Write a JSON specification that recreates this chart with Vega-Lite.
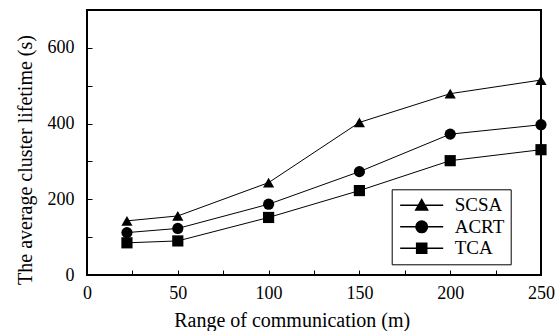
{
  "$schema": "https://vega.github.io/schema/vega-lite/v6.json",
  "width": 454,
  "height": 265,
  "autosize": "none",
  "padding": {"left": 87, "top": 10, "right": 14, "bottom": 56},
  "background": "white",
  "config": {
    "view": {"stroke": "black", "strokeWidth": 2},
    "font": "Liberation Serif",
    "axis": {
      "grid": false,
      "domain": false,
      "ticks": true,
      "tickColor": "black",
      "tickWidth": 1,
      "tickSize": 5,
      "offset": -5,
      "labelFont": "Liberation Serif",
      "labelFontSize": 18,
      "labelColor": "black",
      "titleFont": "Liberation Serif",
      "titleFontSize": 20,
      "titleFontWeight": "normal",
      "titleColor": "black"
    }
  },
  "data": {
    "values": [
      {"range": 22, "lifetime": 143, "series": "SCSA"},
      {"range": 50, "lifetime": 156, "series": "SCSA"},
      {"range": 100, "lifetime": 244, "series": "SCSA"},
      {"range": 150, "lifetime": 403, "series": "SCSA"},
      {"range": 200, "lifetime": 479, "series": "SCSA"},
      {"range": 250, "lifetime": 515, "series": "SCSA"},
      {"range": 22, "lifetime": 112, "series": "ACRT"},
      {"range": 50, "lifetime": 123, "series": "ACRT"},
      {"range": 100, "lifetime": 187, "series": "ACRT"},
      {"range": 150, "lifetime": 273, "series": "ACRT"},
      {"range": 200, "lifetime": 372, "series": "ACRT"},
      {"range": 250, "lifetime": 397, "series": "ACRT"},
      {"range": 22, "lifetime": 85, "series": "TCA"},
      {"range": 50, "lifetime": 90, "series": "TCA"},
      {"range": 100, "lifetime": 152, "series": "TCA"},
      {"range": 150, "lifetime": 223, "series": "TCA"},
      {"range": 200, "lifetime": 302, "series": "TCA"},
      {"range": 250, "lifetime": 331, "series": "TCA"}
    ]
  },
  "encoding": {
    "x": {
      "field": "range",
      "type": "quantitative",
      "scale": {"domain": [0, 250], "nice": false, "zero": false},
      "axis": {
        "title": "Range of communication (m)",
        "values": [0, 25, 50, 75, 100, 125, 150, 175, 200, 225, 250],
        "labelExpr": "datum.value % 50 == 0 ? datum.label : ''",
        "labelFlush": false,
        "labelPadding": 9,
        "titleX": 204.7,
        "titleY": 56,
        "titleBaseline": "alphabetic"
      }
    },
    "y": {
      "field": "lifetime",
      "type": "quantitative",
      "scale": {"domain": [0, 700], "nice": false},
      "axis": {
        "title": "The average cluster lifetime (s)",
        "values": [0, 100, 200, 300, 400, 500, 600],
        "labelExpr": "datum.value % 200 == 0 ? datum.label : ''",
        "labelPadding": 13,
        "titleX": -67,
        "titleY": 149.5,
        "titleAngle": -90,
        "titleAlign": "center",
        "titleBaseline": "middle"
      }
    }
  },
  "layer": [
    {
      "mark": {"type": "line", "color": "black", "strokeWidth": 1},
      "encoding": {"detail": {"field": "series"}}
    },
    {
      "mark": {"type": "point", "filled": true, "color": "black", "opacity": 1, "size": 125},
      "encoding": {
        "shape": {
          "field": "series",
          "scale": {"domain": ["SCSA", "ACRT", "TCA"], "range": ["triangle-up", "circle", "square"]},
          "legend": null
        }
      }
    },
    {
      "transform": [{"filter": "false"}],
      "mark": {"type": "point", "filled": false, "fill": "black", "stroke": "black", "strokeWidth": 1, "opacity": 1, "size": 324},
      "encoding": {
        "shape": {
          "field": "series",
          "scale": {
            "domain": ["SCSA", "ACRT", "TCA"],
            "range": [
              "M-2.39,0H2.39M0,-0.64L0.66,0.52L-0.66,0.52Z",
              "M-2.39,0H2.39M0.64,0A0.64,0.64,0,1,1,-0.64,0A0.64,0.64,0,1,1,0.64,0Z",
              "M-2.39,0H2.39M-0.56,-0.56H0.56V0.56H-0.56Z"
            ]
          },
          "legend": {
            "title": null,
            "orient": "none",
            "legendX": 304.7,
            "legendY": 179.3,
            "strokeColor": "black",
            "fillColor": "white",
            "padding": 6,
            "rowPadding": 1.5,
            "symbolSize": 324,
            "symbolOffset": 14,
            "labelOffset": 23,
            "labelFont": "Liberation Serif",
            "labelFontSize": 19,
            "labelColor": "black",
            "encode": {
              "symbols": {
                "fill": {"value": "black"},
                "stroke": {"value": "black"},
                "strokeWidth": {"value": 1}
              },
              "legend": {
                "strokeWidth": {"value": 1.5}
              }
            }
          }
        }
      }
    }
  ],
  "resolve": {"scale": {"shape": "independent"}, "legend": {"shape": "independent"}}
}
